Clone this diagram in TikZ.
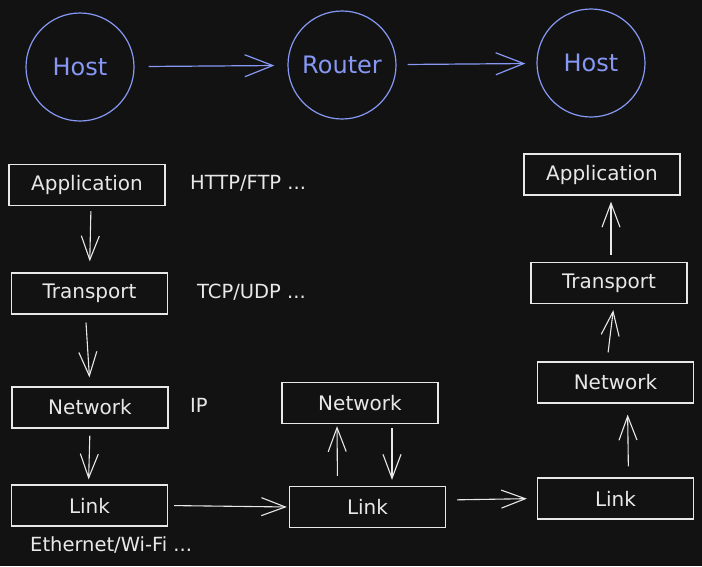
\documentclass[tikz,border=0pt]{standalone}
\usepackage{fontspec}
\setmainfont{DejaVu Sans}
\usetikzlibrary{arrows.meta}
\usepackage{xcolor}
\definecolor{bgdark}{RGB}{18,18,18}
\definecolor{chalk}{RGB}{232,232,232}
\definecolor{hostblue}{RGB}{134,152,244}

\begin{document}
\begin{tikzpicture}[x=1pt, y=-1pt]
        % ================= styles =================
        \tikzset{
            % hosts and router: blue circles
            hostnode/.style={circle, draw=hostblue, line width=1.2pt, text=hostblue,
                minimum size=108pt, inner sep=0pt, font=\fontsize{24}{27}\selectfont},
            % protocol layer: white box
            layer/.style={rectangle, draw=chalk, line width=1.2pt, text=chalk,
                minimum width=156pt, minimum height=41pt, inner sep=0pt,
                font=\fontsize{20}{23}\selectfont},
            % side note
            note/.style={anchor=west, text=chalk, inner sep=0pt, font=\fontsize{19.5}{22}\selectfont},
            % arrows
            flow/.style={draw=chalk, line width=1.1pt, -{Straight Barb[length=24pt, width=18pt]}},
            hop/.style={draw=hostblue, line width=1.2pt, -{Straight Barb[length=28pt, width=22pt]}}
        }

        % background and size
        \fill[bgdark] (0,0) rectangle (702,566);
        \useasboundingbox (0,0) rectangle (702,566);

        % ================= 1. top row =================
        \node[hostnode] (h1) at (80, 67) {Host};
        \node[hostnode] (rt) at (342, 65) {Router};
        \node[hostnode] (h2) at (591, 63) {Host};

        \draw[hop, shorten <=14pt, shorten >=13pt] (h1) -- (rt);
        \draw[hop, shorten <=11pt, shorten >=11pt] (rt) -- (h2);

        % ================= 2. sending host stack =================
        \node[layer] (app1) at (87, 185) {Application};
        \node[layer] (tra1) at (89.5, 293.5) {Transport};
        \node[layer] (net1) at (90, 407.5) {Network};
        \node[layer] (lnk1) at (89.5, 505.5) {Link};

        \node[note] (p1) at (190, 183) {HTTP/FTP ...};
        \node[note] (p2) at (197, 292) {TCP/UDP ...};
        \node[note] (p3) at (190, 405) {IP};
        \node[note] (p4) at (30, 545) {Ethernet/Wi-Fi ...};

        \draw[flow, shorten <=5pt, shorten >=11pt] ([xshift=4pt]app1.south) -- ([xshift=0pt]tra1.north);
        \draw[flow, shorten <=8pt, shorten >=9pt] ([xshift=-4pt]tra1.south) -- ([xshift=0pt]net1.north);
        \draw[flow, shorten <=7pt, shorten >=5pt] ([xshift=0pt]net1.south) -- ([xshift=-1pt]lnk1.north);

        % ================= 3. router stack =================
        \node[layer] (net2) at (360, 403) {Network};
        \node[layer] (lnk2) at (367.5, 507) {Link};

        \draw[flow, shorten <=6pt, shorten >=2pt] (lnk1.east) -- (lnk2.west);
        \draw[flow, shorten <=10pt, shorten >=2pt] ([xshift=-30pt]lnk2.north) -- ([xshift=-23pt]net2.south);
        \draw[flow, shorten <=4pt, shorten >=6pt] ([xshift=32pt]net2.south) -- ([xshift=24.5pt]lnk2.north);

        % ================= 4. receiving host stack =================
        \node[layer] (lnk3) at (615.5, 498.5) {Link};
        \node[layer] (net3) at (615.5, 382.5) {Network};
        \node[layer] (tra3) at (609, 283) {Transport};
        \node[layer] (app3) at (602, 174.5) {Application};

        \draw[flow, shorten <=11pt, shorten >=10pt] ([yshift=7pt]lnk2.east) -- (lnk3.west);
        \draw[flow, shorten <=11pt, shorten >=11pt] ([xshift=13pt]lnk3.north) -- ([xshift=12pt]net3.south);
        \draw[flow, shorten <=9pt, shorten >=6pt] ([xshift=-8.5pt]net3.north) -- ([xshift=5pt]tra3.south);
        \draw[flow, shorten <=7pt, shorten >=6pt] ([xshift=2pt]tra3.north) -- ([xshift=9pt]app3.south);

    \end{tikzpicture}
\end{document}
